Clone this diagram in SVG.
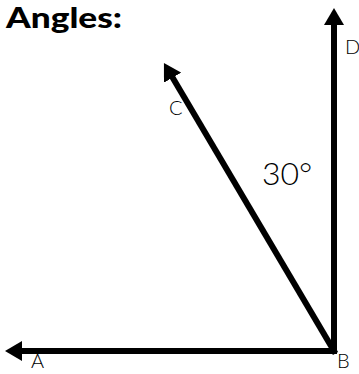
<svg xmlns="http://www.w3.org/2000/svg" width="359" height="374" viewBox="0 0 359 374">
<style>
.lbl{font-family:"Lato","DejaVu Sans",sans-serif;font-weight:300;fill:#000;}
.title{font-family:"Lato","Liberation Sans",sans-serif;font-weight:900;font-size:28px;fill:#000;}
.ray{stroke:#000;stroke-width:6;stroke-linecap:square;fill:none;marker-end:url(#head);}
</style>
<defs>
<marker id="head" markerUnits="userSpaceOnUse" viewBox="0 0 17 20" refX="0" refY="10" markerWidth="17" markerHeight="20" orient="auto">
<path d="M0,0 L17,10 L0,20 z" fill="#000"/>
</marker>
</defs>
<rect width="359" height="374" fill="#fff"/>
<text class="title" x="6" y="28" textLength="116" lengthAdjust="spacingAndGlyphs">Angles:</text>
<g id="connectors">
<line class="ray" x1="334" y1="351" x2="22" y2="351"/>
<line class="ray" x1="334" y1="351" x2="334" y2="25"/>
<line class="ray" x1="334" y1="351" x2="172.6" y2="77.6"/>
</g>
<g id="A"><text class="lbl" x="31" y="368" font-size="20">A</text></g>
<g id="B"><text class="lbl" x="337" y="368" font-size="20">B</text></g>
<g id="C"><text class="lbl" x="169" y="115" font-size="20">C</text></g>
<g id="D"><text class="lbl" x="345" y="54" font-size="20">D</text></g>
<g id="angle"><text class="lbl" x="262" y="185" font-size="32">30°</text></g>
</svg>
